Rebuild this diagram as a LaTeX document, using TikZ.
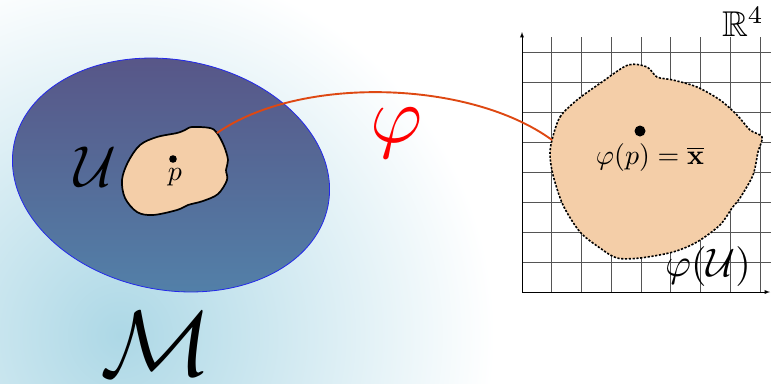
\documentclass[tikz,border=0pt]{standalone}
\usepackage{amssymb}
\usepackage{xcolor}

\definecolor{fondbleu}{RGB}{173,216,230}
\definecolor{hautcarte}{RGB}{88,84,134}
\definecolor{bascarte}{RGB}{82,130,170}
\definecolor{bordcarte}{RGB}{35,40,235}
\definecolor{peau}{RGB}{244,206,168}
\definecolor{courbe}{RGB}{222,72,18}
\definecolor{grille}{RGB}{85,85,85}

\tikzset{
    domaine/.style={fill=peau, draw=black},
    etiquette/.style={inner sep=0pt},
    quadrillage/.style={draw=grille, line width=0.9bp},
}

\begin{document}
\begin{tikzpicture}[x=1bp, y=-1bp, >=latex]

    % Cadre de l'image
    \useasboundingbox (0,0) rectangle (771,383);
    \clip (0,0) rectangle (771,383);

    % Définition des points importants
    \coordinate (C) at (171,175);      % Centre de la carte
    \coordinate (P) at (173,159);      % Point p
    \coordinate (X) at (640,131);      % Image de p
    \coordinate (attacheU) at (217,133);   % Départ de la flèche phi
    \coordinate (attachePhi) at (552,140); % Arrivée de la flèche phi

    % Halo bleu de la variété
    \shade[inner color=fondbleu, outer color=white] (120,335) circle (375);

    % Carte (ellipse inclinée)
    \shade[top color=hautcarte, bottom color=bascarte, rotate around={-11:(C)}] (C) ellipse (160 and 115);
    \draw[bordcarte, line width=0.8bp, rotate around={-11:(C)}] (C) ellipse (160 and 115);

    % Ouvert U
    \draw[domaine, line width=1.7bp] plot[smooth cycle, tension=0.55] coordinates {
        (185,130) (192,127) (210,128) (217,133) (224,146) (228,160) (226,170)
        (227,180) (218,194) (203,201) (188,205) (177,210) (153,215) (137,212)
        (125,198) (122,180) (128,162) (140,145) (157,137) (177,133)};
    \fill (P) circle (3.8);

    % --- Quadrillage de R^4 ---
    \foreach \i in {1,...,8}
        \draw[quadrillage] ({522+29.75*\i},37) -- ({522+29.75*\i},292);
    \foreach \j in {0,...,7}
        \draw[quadrillage] (522,{52+30*\j}) -- (771,{52+30*\j});

    % Axes
    \draw[->, line width=0.9bp] (522,292) -- (522,32);
    \draw[->, line width=0.9bp] (522,292) -- (770,292);

    % Image phi(U) (contour en pointillés)
    \draw[domaine, line width=1.6bp, dash pattern=on 2.2bp off 1.6bp] plot[smooth cycle, tension=0.5] coordinates {
        (552,140) (560,117) (577,100) (602,82) (628,65) (647,67) (657,77)
        (673,80) (697,87) (720,100) (737,115) (750,130) (762,137) (758,152)
        (753,175) (740,198) (732,208) (720,225) (697,242) (673,252) (640,258)
        (617,258) (600,248) (580,232) (563,205) (553,175) (550,155)};
    \fill (X) circle (5.5);

    % Application phi
    \draw[courbe, line width=1.9bp] (attacheU) .. controls (300,75) and (470,80) .. (attachePhi);

    % --- Étiquettes ---
    \node[etiquette, scale=5.8] (nomU) at (95,167) {$\mathcal{U}$};
    \node[etiquette, scale=9.3] (nomM) at (156,344) {$\mathcal{M}$};
    \node[etiquette, scale=8, text=red] (nomPhi) at (397,133) {$\varphi$};
    \node[etiquette, scale=2.8] (nomP) at (175,177) {$p$};
    \node[etiquette, scale=3.6] (nomR) at (743,22) {$\mathbb{R}^4$};
    \node[etiquette, scale=4] (nomPhiU) at (708,267) {$\varphi(\mathcal{U})$};
    \node[etiquette, scale=2.8] (nomX) at (650,158) {$\varphi(p) = \overline{\mathbf{x}}$};

\end{tikzpicture}
\end{document}
